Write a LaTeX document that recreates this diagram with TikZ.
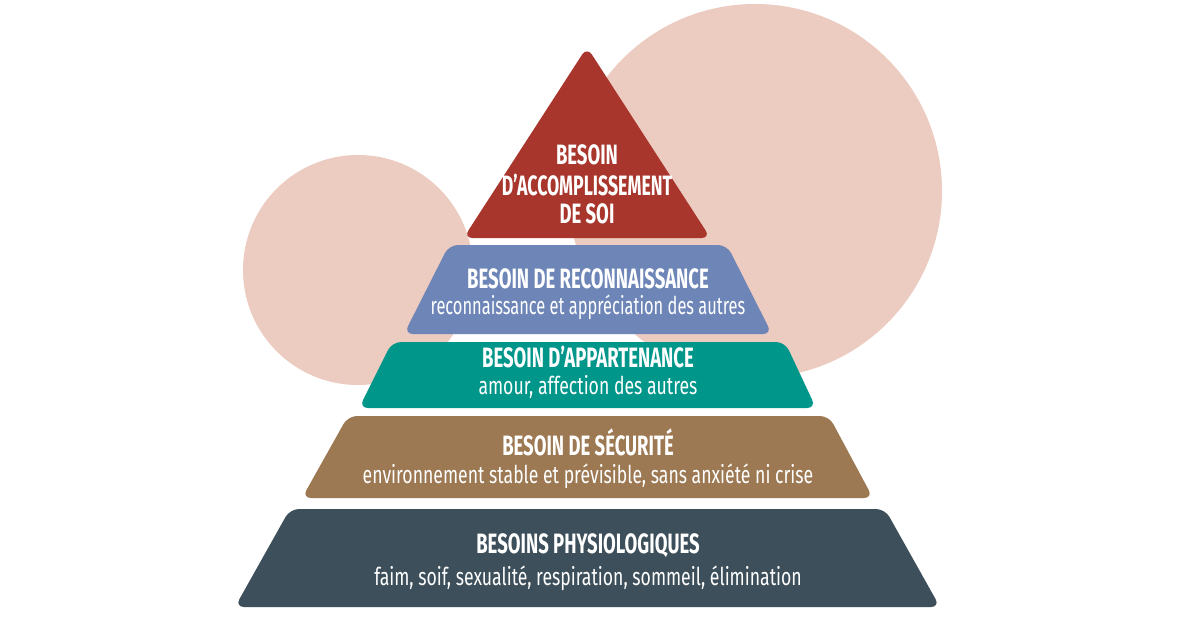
\documentclass[tikz,border=0pt]{standalone}
\usepackage{fontspec}
\newfontfamily\titlefont[FakeStretch=0.66]{Fira Sans}
\newfontfamily\subfont[FakeStretch=0.72]{Fira Sans}
\newfontfamily\subfontn[FakeStretch=0.67]{Fira Sans}
\definecolor{pinkc}{HTML}{ECCBC0}
\definecolor{redc}{HTML}{A8362C}
\definecolor{bluec}{HTML}{6E85B7}
\definecolor{tealc}{HTML}{00968A}
\definecolor{brownc}{HTML}{9C7853}
\definecolor{darkc}{HTML}{3D4F5A}
\tikzset{
  ttl/.style={text=white, font=\titlefont\bfseries\fontsize{28}{28}\selectfont, anchor=base, inner sep=0pt},
  sub/.style={text=white, font=\subfont\fontsize{24.5}{24.5}\selectfont, anchor=base, inner sep=0pt},
  subn/.style={sub, font=\subfontn\fontsize{24.5}{24.5}\selectfont},
  layer/.style={rounded corners=9pt},
  bubble/.style={fill=pinkc}
}
\begin{document}
\begin{tikzpicture}[x=1pt,y=-1pt]
\useasboundingbox[fill=white] (0,0) rectangle (1200,630);
% background circles
\fill[bubble] (755,191) circle[radius=187pt];
\fill[bubble] (358,270) circle[radius=115pt];
% layers
\fill[layer, fill=redc] (587,47) -- (710.5,238) -- (463.5,238) -- cycle;
\fill[layer, fill=bluec] (449,245) -- (727,245) -- (772,334) -- (404,334) -- cycle;
\fill[layer, fill=tealc] (392,342) -- (785,342) -- (816,408) -- (359,408) -- cycle;
\fill[layer, fill=brownc] (348,416) -- (829,416) -- (873,498) -- (302,498) -- cycle;
\fill[layer, fill=darkc] (290,509) -- (885,509) -- (940,607) -- (235,607) -- cycle;
% texts
\node[ttl] (t1a) at (587,164) {BESOIN};
\node[ttl, xscale=0.96] (t1b) at (587,195) {D’ACCOMPLISSEMENT};
\node[ttl] (t1c) at (587,223) {DE SOI};
\node[ttl] (t2) at (588,288) {BESOIN DE RECONNAISSANCE};
\node[subn] (s2) at (588,314) {reconnaissance et appréciation des autres};
\node[ttl] (t3) at (588,367) {BESOIN D’APPARTENANCE};
\node[sub] (s3) at (588,394) {amour, affection des autres};
\node[ttl] (t4) at (588,455) {BESOIN DE SÉCURITÉ};
\node[sub] (s4) at (588,483) {environnement stable et prévisible, sans anxiété ni crise};
\node[ttl] (t5) at (588,553) {BESOINS PHYSIOLOGIQUES};
\node[sub] (s5) at (588,585) {faim, soif, sexualité, respiration, sommeil, élimination};
\end{tikzpicture}
\end{document}
